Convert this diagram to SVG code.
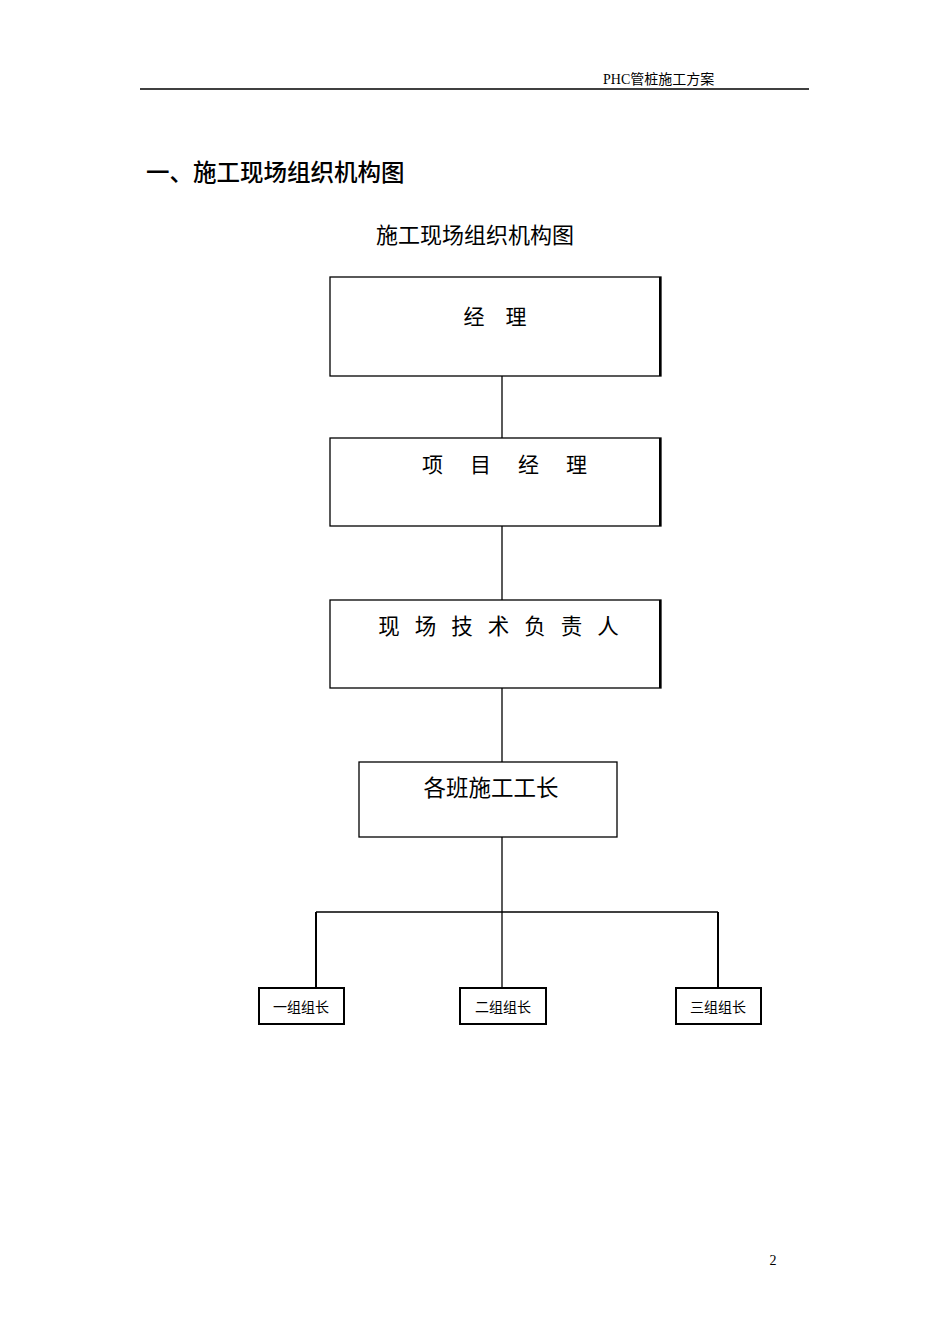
<svg xmlns="http://www.w3.org/2000/svg" width="950" height="1344" viewBox="0 0 950 1344">
<style>
.b{fill:#fff;stroke:#000;stroke-width:1.3}
.s{fill:none;stroke:#000;stroke-width:2}
.t{font-family:"Liberation Serif","Noto Sans CJK SC",serif;fill:#000}
.c{stroke:#000;stroke-width:1.3;fill:none}
</style>
<rect width="950" height="1344" fill="#fff"/>
<line x1="140" y1="89" x2="809" y2="89" stroke="#000" stroke-width="1.3"/>
<text class="t" x="603" y="84" font-size="14">PHC管桩施工方案</text>
<text class="t" x="146" y="181" font-size="23.5" font-weight="500" font-family="Noto Sans CJK SC,sans-serif">一、施工现场组织机构图</text>
<text class="t" x="475" y="243" font-size="22" text-anchor="middle">施工现场组织机构图</text>
<text class="t" x="773" y="1265" font-size="14" text-anchor="middle">2</text>
<g id="connectors">
<line class="c" x1="502" y1="376" x2="502" y2="438"/>
<line class="c" x1="502" y1="526" x2="502" y2="600"/>
<line class="c" x1="502" y1="688" x2="502" y2="762"/>
<line class="c" x1="502" y1="837" x2="502" y2="987"/>
<line class="c" x1="316" y1="912" x2="718" y2="912"/>
<line class="s" x1="316" y1="912" x2="316" y2="987"/>
<line class="s" x1="718" y1="912" x2="718" y2="987"/>
</g>
<g id="n1"><rect class="b" x="330" y="277" width="331" height="99"/><line class="s" x1="660" y1="277" x2="660" y2="376"/><text class="t" x="495" y="324" font-size="21" text-anchor="middle">经　理</text></g>
<g id="n2"><rect class="b" x="330" y="438" width="331" height="88"/><line class="s" x1="660" y1="438" x2="660" y2="526"/><text class="t" x="506" y="472" font-size="21" text-anchor="middle" letter-spacing="3">项　目　经　理</text></g>
<g id="n3"><rect class="b" x="330" y="600" width="331" height="88"/><line class="s" x1="660" y1="600" x2="660" y2="688"/><text class="t" x="506" y="634" font-size="21.5" text-anchor="middle" letter-spacing="15">现场技术负责人</text></g>
<g id="n4"><rect class="b" x="359" y="762" width="258" height="75"/><text class="t" x="491" y="796" font-size="22.5" text-anchor="middle">各班施工工长</text></g>
<g id="n5"><rect class="s" x="259" y="988" width="85" height="36"/><text class="t" x="301" y="1012" font-size="14" text-anchor="middle" fill="#333">一组组长</text></g>
<g id="n6"><rect class="s" x="460" y="988" width="86" height="36"/><text class="t" x="503" y="1012" font-size="14" text-anchor="middle" fill="#333">二组组长</text></g>
<g id="n7"><rect class="s" x="676" y="988" width="85" height="36"/><text class="t" x="718" y="1012" font-size="14" text-anchor="middle" fill="#333">三组组长</text></g>
</svg>
